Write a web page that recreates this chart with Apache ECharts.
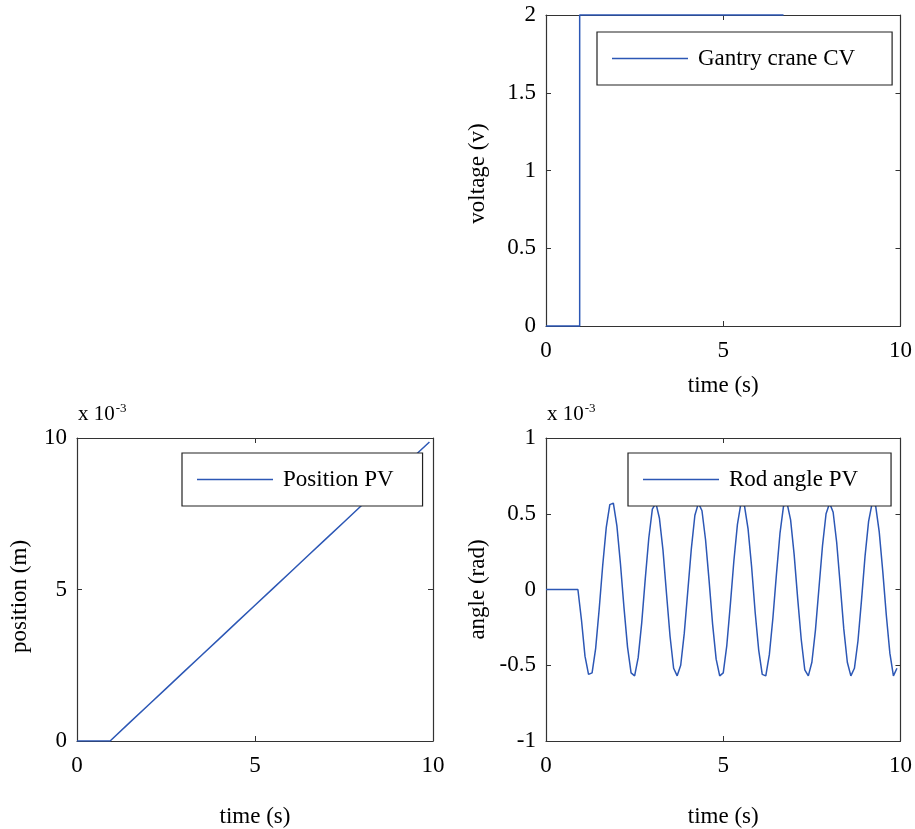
<!DOCTYPE html>
<html>
<head>
<meta charset="utf-8">
<script src="https://cdn.jsdelivr.net/npm/echarts@6/dist/echarts.min.js"></script>
<style>
  html, body { margin: 0; padding: 0; background: #fff; }
  #main { width: 915px; height: 829px; }
</style>
</head>
<body>
<div id="main"></div>
<script>
  // gantry crane CV (voltage)
  let voltTime = [0, 0.95, 0.95, 6.7]
  let voltValue = [0, 0, 2, 2]

  // position PV, x 10^-3 m
  let posTime = [0, 0.93, 1.5, 2.0, 2.5, 3.0, 3.5, 4.0, 4.5, 5.0, 5.5, 6.0, 6.5, 7.0, 7.5, 8.0, 8.5, 9.0, 9.5, 9.9]
  let posValue = [0, 0, 0.63, 1.18, 1.73, 2.28, 2.83, 3.38, 3.93, 4.48, 5.03, 5.58, 6.13, 6.68, 7.23, 7.78, 8.33, 8.88, 9.43, 9.87]

  // rod angle PV, x 10^-3 rad (sampled every 0.1 s)
  let angleTime = [0, 0.9,
    1.0, 1.1, 1.2, 1.3, 1.4, 1.5, 1.6, 1.7, 1.8, 1.9,
    2.0, 2.1, 2.2, 2.3, 2.4, 2.5, 2.6, 2.7, 2.8, 2.9,
    3.0, 3.1, 3.2, 3.3, 3.4, 3.5, 3.6, 3.7, 3.8, 3.9,
    4.0, 4.1, 4.2, 4.3, 4.4, 4.5, 4.6, 4.7, 4.8, 4.9,
    5.0, 5.1, 5.2, 5.3, 5.4, 5.5, 5.6, 5.7, 5.8, 5.9,
    6.0, 6.1, 6.2, 6.3, 6.4, 6.5, 6.6, 6.7, 6.8, 6.9,
    7.0, 7.1, 7.2, 7.3, 7.4, 7.5, 7.6, 7.7, 7.8, 7.9,
    8.0, 8.1, 8.2, 8.3, 8.4, 8.5, 8.6, 8.7, 8.8, 8.9,
    9.0, 9.1, 9.2, 9.3, 9.4, 9.5, 9.6, 9.7, 9.8, 9.9]
  let angleValue = [0, 0,
    -0.20, -0.44, -0.56, -0.55, -0.39, -0.13, 0.16, 0.41, 0.56, 0.57,
    0.42, 0.17, -0.12, -0.38, -0.55, -0.57, -0.45, -0.22, 0.07, 0.34,
    0.53, 0.57, 0.47, 0.26, -0.03, -0.31, -0.52, -0.57, -0.50, -0.29,
    -0.01, 0.27, 0.49, 0.57, 0.52, 0.33, 0.06, -0.23, -0.46, -0.57,
    -0.55, -0.37, -0.10, 0.19, 0.43, 0.57, 0.55, 0.40, 0.15, -0.15,
    -0.40, -0.56, -0.57, -0.43, -0.19, 0.10, 0.37, 0.55, 0.57, 0.46,
    0.23, -0.06, -0.33, -0.53, -0.57, -0.48, -0.27, 0.01, 0.29, 0.50,
    0.57, 0.51, 0.31, 0.03, -0.26, -0.48, -0.57, -0.52, -0.34, -0.07,
    0.22, 0.45, 0.57, 0.55, 0.38, 0.12, -0.17, -0.42, -0.57, -0.52]

  let timeTicks = [0, 5, 10]
  let voltTicks = [0, 0.5, 1, 1.5, 2]
  let posTicks = [0, 5, 10]
  let angleTicks = [-1, -0.5, 0, 0.5, 1]

  let font = 'Liberation Serif, Times New Roman, serif'
  let lineColor = '#2c57b5'
  let fs = 23

  function zip(a, b) {
    return a.map((v, i) => [v, b[i]])
  }

  let boxLine = {show: true, onZero: false, lineStyle: {color: '#333', width: 1.2}}
  let inTick = {show: true, inside: true, length: 5, lineStyle: {color: '#333'}}

  // main x axis + mirrored top ticks
  function xAxes(grid, nameGap, labelMargin) {
    return [
      {
        type: 'value', gridIndex: grid, min: timeTicks[0], max: timeTicks[timeTicks.length - 1], interval: 5,
        name: 'time (s)', nameLocation: 'middle', nameGap: nameGap,
        nameTextStyle: {fontFamily: font, fontSize: fs, color: '#000'},
        axisLine: boxLine, axisTick: inTick,
        axisLabel: {color: '#000', fontFamily: font, fontSize: fs, margin: labelMargin},
        splitLine: {show: false}
      },
      {
        type: 'value', gridIndex: grid, position: 'top', min: 0, max: 10, interval: 5,
        axisLine: boxLine, axisTick: inTick,
        axisLabel: {show: false},
        splitLine: {show: false}
      }
    ]
  }

  // main y axis + mirrored right ticks, namePad nudges the rotated name down
  function yAxes(grid, ticks, interval, name, nameGap, namePad) {
    return [
      {
        type: 'value', gridIndex: grid, min: ticks[0], max: ticks[ticks.length - 1], interval: interval,
        name: name, nameLocation: 'middle', nameGap: nameGap,
        nameTextStyle: {fontFamily: font, fontSize: fs, color: '#000', padding: [0, namePad, 0, 0]},
        axisLine: boxLine, axisTick: inTick,
        axisLabel: {color: '#000', fontFamily: font, fontSize: fs, margin: 10},
        splitLine: {show: false}
      },
      {
        type: 'value', gridIndex: grid, position: 'right', min: ticks[0], max: ticks[ticks.length - 1], interval: interval,
        axisLine: boxLine, axisTick: inTick,
        axisLabel: {show: false},
        splitLine: {show: false}
      }
    ]
  }

  function legendBox(name, left, top, padding) {
    return {
      data: [name], left: left, top: top, padding: padding,
      orient: 'vertical',
      backgroundColor: '#fff', borderColor: '#222', borderWidth: 1.2, borderRadius: 0,
      icon: 'rect', itemWidth: 76, itemHeight: 1.5,
      selectedMode: false,
      textStyle: {fontFamily: font, fontSize: fs, color: '#000', padding: [0, 0, 0, 5]}
    }
  }

  function sup(left, top) {
    return {
      type: 'text', left: left, top: top,
      style: {
        text: '{b|x 10}{s|-3}',
        rich: {
          b: {fontFamily: font, fontSize: 21, fill: '#000', verticalAlign: 'bottom'},
          s: {fontFamily: font, fontSize: 13, fill: '#000', verticalAlign: 'top', padding: [0, 0, 10, 1]}
        }
      }
    }
  }

  let myChart = echarts.init(document.getElementById('main'))

  myChart.setOption({
    animation: false,
    grid: [
      {left: 546, top: 15, width: 356, height: 311},
      {left: 77, top: 438, width: 356, height: 310},
      {left: 546, top: 438, width: 356, height: 310}
    ],
    xAxis: [].concat(xAxes(0, 48, 13), xAxes(1, 64, 13), xAxes(2, 64, 13)),
    yAxis: [].concat(
      yAxes(0, voltTicks, 0.5, 'voltage (v)', 57, 6),
      yAxes(1, posTicks, 5, 'position (m)', 46, 14),
      yAxes(2, angleTicks, 0.5, 'angle (rad)', 57, 0)
    ),
    legend: [
      legendBox('Gantry crane CV', 597, 32, [15, 37, 15, 15]),
      legendBox('Position PV', 182, 453, [15, 29, 15, 15]),
      legendBox('Rod angle PV', 628, 453, [15, 33, 15, 15])
    ],
    graphic: [sup(78, 402), sup(547, 402)],
    series: [
      {
        name: 'Gantry crane CV', type: 'line', xAxisIndex: 0, yAxisIndex: 0,
        data: zip(voltTime, voltValue), symbol: 'none', clip: false, z: 5,
        lineStyle: {color: lineColor, width: 1.5}, itemStyle: {color: lineColor}
      },
      {
        name: 'Position PV', type: 'line', xAxisIndex: 2, yAxisIndex: 2,
        data: zip(posTime, posValue), symbol: 'none',
        lineStyle: {color: lineColor, width: 1.5}, itemStyle: {color: lineColor}
      },
      {
        name: 'Rod angle PV', type: 'line', xAxisIndex: 4, yAxisIndex: 4,
        data: zip(angleTime, angleValue), symbol: 'none',
        lineStyle: {color: lineColor, width: 1.5}, itemStyle: {color: lineColor}
      }
    ]
  })
</script>
</body>
</html>
